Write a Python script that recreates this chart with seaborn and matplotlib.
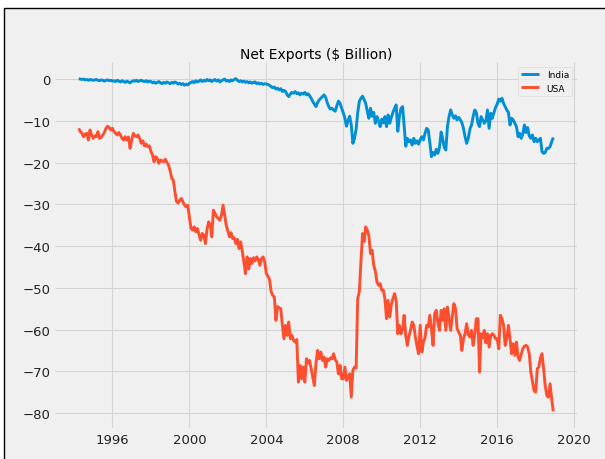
import matplotlib
matplotlib.use("Agg")
import matplotlib.pyplot as plt
import matplotlib.dates as mdates
from matplotlib.patches import Rectangle
import seaborn as sns
import pandas as pd

# ---- data (monthly, Apr 1994 .. Dec 2018), $ billion ----
start_month = "1994-04-01"
end_month = "2018-12-01"
series_names = ["India", "USA"]
series_colors = ["#008fd5", "#fc4f30"]
title_text = "Net Exports ($ Billion)"

india = [
    0.1, 0.0, -0.1, 0.0, -0.2, -0.1, -0.3, -0.1, -0.2,                      # 1994
    -0.3, -0.2, -0.1, -0.3, -0.4, -0.2, -0.3, -0.5, -0.3, -0.2, -0.4, -0.3,  # 1995
    -0.5, -0.4, -0.6, -0.3, -0.5, -0.7, -0.4, -0.6, -0.8, -0.5, -0.7, -0.9,  # 1996
    -0.6, -0.4, -0.5, -0.3, -0.6, -0.4, -0.3, -0.5, -0.6, -0.4, -0.7, -0.5,  # 1997
    -0.6, -0.9, -0.7, -1.0, -0.8, -0.6, -0.9, -1.1, -0.8, -1.0, -0.7, -0.9,  # 1998
    -1.1, -0.8, -1.0, -0.7, -0.9, -1.2, -1.0, -1.3, -1.1, -1.5, -1.2, -1.4,  # 1999
    -1.0, -0.8, -0.6, -0.9, -0.4, -0.7, -0.5, -0.2, -0.6, -0.3, -0.5, -0.1,  # 2000
    -0.4, -0.2, -0.6, -0.3, -0.1, -0.5, -0.2, -0.7, -0.4, -0.2, 0.0, -0.5,   # 2001
    -0.3, -0.6, -0.2, -0.4, -0.1, 0.1, -0.3, -0.6, -0.4, -0.7, -0.5, -0.8,   # 2002
    -0.6, -0.9, -0.7, -1.0, -0.8, -0.7, -1.1, -0.9, -1.2, -1.0, -1.3, -1.1,  # 2003
    -1.2, -1.3, -1.5, -1.8, -2.1, -1.9, -2.4, -2.2, -2.6, -2.3, -3.0, -2.7,  # 2004
    -3.0, -3.8, -4.2, -3.6, -3.2, -3.4, -3.0, -3.5, -3.3, -3.8, -3.4, -3.6,  # 2005
    -3.2, -3.8, -3.5, -4.0, -4.6, -5.4, -6.0, -6.6, -5.6, -5.0, -4.6, -4.2,  # 2006
    -3.8, -4.4, -5.6, -6.6, -7.2, -7.0, -7.4, -7.7, -6.4, -5.3, -5.8, -7.0,  # 2007
    -8.1, -9.4, -11.3, -10.0, -8.9, -11.0, -15.4, -14.2, -12.0, -8.0, -5.3, -4.6,  # 2008
    -4.1, -5.0, -5.8, -7.7, -9.4, -7.0, -8.9, -8.0, -10.6, -9.0, -10.1, -11.4,  # 2009
    -9.6, -10.5, -9.0, -11.4, -8.6, -10.6, -9.2, -8.0, -7.0, -6.2, -12.5, -9.0,  # 2010
    -7.0, -6.6, -11.0, -16.1, -14.2, -15.0, -14.6, -15.8, -14.2, -15.4, -14.8, -15.6,  # 2011
    -14.5, -13.8, -14.6, -13.0, -11.8, -12.2, -15.2, -18.6, -17.6, -18.2, -16.8, -17.8,  # 2012
    -16.4, -12.7, -14.2, -16.4, -17.0, -11.4, -9.0, -7.4, -8.6, -9.4, -8.8, -9.8,  # 2013
    -9.2, -9.8, -10.4, -11.8, -13.8, -15.4, -14.2, -12.0, -11.0, -9.0, -7.4, -8.0,  # 2014
    -10.6, -11.4, -9.0, -9.8, -10.6, -10.0, -7.4, -11.8, -8.2, -9.4, -8.0, -6.8,  # 2015
    -6.0, -4.8, -5.3, -4.6, -5.8, -6.6, -7.4, -8.0, -11.0, -9.4, -9.8, -10.6,  # 2016
    -11.4, -13.8, -13.0, -14.2, -13.2, -11.0, -12.8, -11.6, -13.6, -14.2, -13.4, -15.0,  # 2017
    -14.2, -15.0, -14.6, -14.2, -17.4, -17.8, -17.6, -16.6, -16.6, -16.2, -15.0, -14.0,  # 2018
]

usa = [
    -11.8, -12.6, -13.0, -13.8, -13.2, -13.0, -14.6, -12.2, -13.4,                 # 1994
    -14.2, -13.6, -13.8, -12.6, -14.2, -14.0, -13.4, -12.8, -11.8, -11.3, -11.6, -12.2,  # 1995
    -11.8, -12.6, -13.0, -13.4, -12.8, -13.4, -14.2, -14.6, -13.8, -14.6, -13.9, -16.6,  # 1996
    -14.6, -13.0, -13.6, -13.8, -13.4, -14.2, -15.4, -14.8, -16.0, -15.6, -16.2, -16.0,  # 1997
    -17.3, -18.2, -19.8, -18.6, -19.0, -20.2, -19.4, -19.6, -19.8, -19.2, -20.0, -20.6,  # 1998
    -22.0, -23.8, -24.2, -26.9, -29.3, -29.7, -29.0, -28.6, -29.4, -30.2, -30.6, -30.2,  # 1999
    -33.0, -35.8, -36.2, -35.4, -36.6, -35.8, -37.2, -38.6, -37.0, -37.4, -39.4, -36.0,  # 2000
    -34.2, -35.0, -37.8, -31.4, -32.2, -33.0, -33.4, -33.8, -32.6, -30.2, -32.6, -35.0,  # 2001
    -36.4, -37.8, -36.8, -38.2, -38.0, -39.4, -38.4, -40.6, -39.0, -41.2, -43.8, -46.6,  # 2002
    -42.6, -45.5, -43.0, -44.2, -42.8, -43.6, -42.6, -43.2, -44.6, -43.0, -42.6, -43.8,  # 2003
    -46.6, -47.2, -48.0, -50.9, -51.8, -52.2, -57.8, -54.5, -54.8, -55.0, -59.0, -62.2,  # 2004
    -59.0, -61.4, -58.2, -62.2, -61.4, -62.6, -63.0, -62.4, -72.6, -68.6, -71.8, -69.0,  # 2005
    -72.6, -67.0, -68.0, -67.4, -69.4, -71.4, -73.4, -68.0, -65.0, -67.0, -65.4, -67.4,  # 2006
    -66.6, -69.0, -67.0, -67.4, -66.8, -67.0, -65.8, -67.2, -67.8, -70.6, -68.6, -71.8,  # 2007
    -71.8, -69.0, -72.2, -71.4, -70.6, -76.2, -69.8, -69.0, -69.2, -52.6, -50.9, -43.8,  # 2008
    -37.0, -38.9, -35.4, -36.2, -37.6, -41.8, -41.0, -44.6, -46.0, -48.6, -49.4, -49.0,  # 2009
    -50.6, -50.6, -52.6, -57.4, -53.0, -57.0, -54.0, -52.6, -51.4, -53.0, -61.0, -59.0,  # 2010
    -61.0, -59.8, -56.6, -61.4, -63.8, -61.6, -60.2, -58.2, -59.0, -61.8, -64.0, -65.8,  # 2011
    -59.0, -65.4, -63.0, -62.0, -59.0, -59.4, -56.6, -59.8, -63.8, -56.2, -55.4, -58.4,  # 2012
    -60.2, -55.4, -57.8, -55.0, -60.2, -54.6, -57.4, -60.2, -56.8, -53.8, -55.0, -59.8,  # 2013
    -60.6, -61.4, -65.0, -62.2, -61.0, -58.6, -61.2, -61.8, -60.2, -63.8, -61.4, -57.4,  # 2014
    -57.4, -70.2, -61.0, -62.0, -60.2, -63.2, -61.0, -64.2, -61.4, -61.0, -61.4, -62.2,  # 2015
    -62.2, -64.6, -56.6, -57.4, -59.0, -63.8, -62.2, -59.0, -62.2, -65.8, -63.4, -66.2,  # 2016
    -63.0, -66.6, -67.4, -66.0, -64.6, -64.0, -63.8, -64.2, -65.8, -70.2, -72.4, -74.6,  # 2017
    -75.0, -69.4, -69.0, -66.8, -65.8, -69.4, -73.4, -75.8, -76.2, -73.0, -76.6, -79.6,  # 2018
]

dates = pd.date_range(start_month, end_month, freq="MS")
assert len(dates) == len(india) == len(usa)

df = pd.concat([
    pd.DataFrame({"date": dates, "value": india, "country": series_names[0]}),
    pd.DataFrame({"date": dates, "value": usa, "country": series_names[1]}),
])

plt.style.use("fivethirtyeight")
plt.rcParams["font.family"] = ["DejaVu Sans"]

fig = plt.figure(figsize=(6.05, 4.6), dpi=100, facecolor="white")
# notebook-style frame (only left/top edges visible)
fig.add_artist(Rectangle((4 / 605, -0.2), 1.5, (460 - 9) / 460 + 0.2,
                         transform=fig.transFigure, facecolor="#f0f0f0",
                         edgecolor="black", lw=1.0, zorder=-5))
ax = fig.add_axes([55 / 605, 1 - 429 / 460, (577 - 55) / 605, (429 - 63) / 460])
ax.set_facecolor("#f0f0f0")

sns.lineplot(data=df, x="date", y="value", hue="country",
             palette=dict(zip(series_names, series_colors)),
             linewidth=2.1, ax=ax)

ax.xaxis.set_major_locator(mdates.YearLocator(4))
ax.xaxis.set_major_formatter(mdates.DateFormatter("%Y"))
ax.set_xlabel("")
ax.set_ylabel("")
ax.set_title(title_text, fontsize=10, pad=3)
ax.tick_params(axis="both", labelsize=9.5, colors="#222222")
ax.grid(True, color="#d4d4d4", lw=0.8)
for s in ax.spines.values():
    s.set_visible(False)

leg = ax.legend(loc="upper right", fontsize=6.5, frameon=True)
leg.get_frame().set_facecolor("#f0f0f0")
leg.get_frame().set_edgecolor("#d8d8d8")
for line in leg.get_lines():
    line.set_linewidth(2.1)

fig.savefig("out.png", dpi=100, facecolor=fig.get_facecolor())
